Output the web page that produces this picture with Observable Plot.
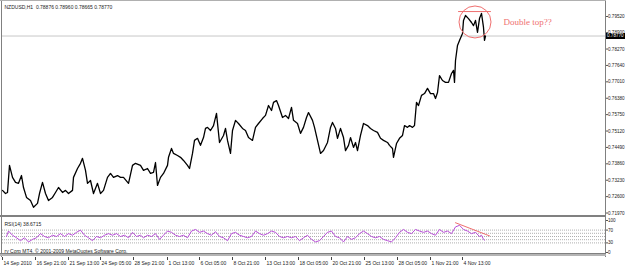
<!DOCTYPE html>
<html><head><meta charset="utf-8">
<script src="https://cdn.jsdelivr.net/npm/d3@7"></script>
<script src="https://cdn.jsdelivr.net/npm/@observablehq/plot@0.6"></script>
<style>
body{margin:0;background:#fff}
#wrap{position:relative;width:625px;height:269px;overflow:hidden;font-family:"Liberation Sans",Arial,sans-serif;background:#fff}
#wrap svg{position:absolute;left:0;overflow:visible}
.b{position:absolute;background:#808080}
.box{position:absolute;background:#000;color:#fff;font-size:4.6px;line-height:6px;height:6px;padding:0 0 0 1px;left:606px;width:18px;white-space:nowrap;overflow:hidden}
</style></head><body><div id="wrap"></div>
<script>
// ---- data ----
const symbolTitle = "NZDUSD,H1";
const ohlc = ["0.78876", "0.78960", "0.78665", "0.78770"];
const priceT = [0,3,5,7,10,13,16,19,21,24,28,31,35,37,40,43,46,50,53,56,60,63,66,70,71,75,78,80,83,85,88,91,95,98,101,105,108,111,115,118,121,126,130,133,138,141,145,148,151,153,155,158,161,165,166,169,171,175,178,181,185,187,190,192,195,198,201,203,205,208,211,214,217,221,223,225,228,230,233,236,240,243,246,250,253,256,260,263,266,269,271,274,276,280,283,286,289,291,295,298,301,304,306,310,312,315,318,321,325,328,330,333,335,338,341,343,346,348,351,353,355,358,361,365,368,371,375,378,381,385,387,390,391,394,397,400,402,405,407,410,412,414,416,419,422,425,428,431,433,435,437,440,443,446,449,451,452,453,455,457,460,461,463,466,469,471,473,475,477,479,481,482,483];
const priceV = [0.7284,0.7272,0.7276,0.7380,0.7334,0.7315,0.7311,0.7341,0.7295,0.7257,0.7245,0.7219,0.7234,0.7272,0.7315,0.7272,0.7245,0.7257,0.7276,0.7295,0.7276,0.7284,0.7272,0.7284,0.7334,0.7368,0.7388,0.7407,0.7361,0.7311,0.7322,0.7272,0.7311,0.7272,0.7284,0.7334,0.7349,0.7334,0.7341,0.7334,0.7334,0.7311,0.7380,0.7388,0.7380,0.7361,0.7368,0.7349,0.7353,0.7391,0.7303,0.7334,0.7349,0.7380,0.7411,0.7445,0.7426,0.7418,0.7411,0.7399,0.7380,0.7368,0.7426,0.7476,0.7484,0.7457,0.7487,0.7522,0.7526,0.7514,0.7533,0.7580,0.7468,0.7495,0.7522,0.7476,0.7426,0.7514,0.7553,0.7541,0.7522,0.7514,0.7487,0.7476,0.7526,0.7541,0.7560,0.7572,0.7610,0.7591,0.7622,0.7629,0.7610,0.7564,0.7572,0.7560,0.7603,0.7553,0.7541,0.7503,0.7526,0.7564,0.7583,0.7553,0.7526,0.7476,0.7426,0.7437,0.7468,0.7526,0.7545,0.7522,0.7484,0.7522,0.7487,0.7437,0.7457,0.7487,0.7449,0.7468,0.7437,0.7495,0.7541,0.7533,0.7522,0.7514,0.7507,0.7484,0.7476,0.7468,0.7457,0.7445,0.7411,0.7464,0.7484,0.7495,0.7533,0.7526,0.7533,0.7526,0.7533,0.7622,0.7610,0.7649,0.7656,0.7676,0.7656,0.7656,0.7637,0.7660,0.7725,0.7706,0.7699,0.7699,0.7733,0.7745,0.7699,0.7783,0.7841,0.7860,0.7887,0.7937,0.7956,0.7944,0.7929,0.7917,0.7937,0.7891,0.7944,0.7964,0.7910,0.7860,0.7877];
const rsiT = [4,6,10,14,18,22,26,30,34,38,42,46,50,54,58,62,66,70,74,78,82,86,90,94,98,102,106,110,114,118,122,126,130,134,138,141,145,149,153,157,161,165,169,173,177,181,185,189,193,197,201,205,209,213,217,221,225,229,233,237,241,245,249,253,257,261,265,269,273,277,281,285,289,293,297,301,305,309,313,317,321,325,329,333,337,341,345,349,353,357,361,365,369,373,377,381,385,389,393,397,401,405,409,413,417,421,425,429,433,437,441,445,449,453,457,461,465,469,473,477,479,481,482];
const rsiV = [50,67,54,46,37,46,33,41,46,59,50,46,54,50,59,50,59,54,63,70,54,46,37,50,46,54,59,54,59,50,54,46,63,50,54,46,54,50,59,41,54,67,63,54,50,54,46,67,72,63,67,59,54,65,50,46,37,59,63,54,50,46,50,67,59,54,59,67,63,50,46,50,46,50,37,46,54,41,33,37,50,63,67,50,46,33,50,41,46,59,67,59,50,46,50,41,37,33,46,63,72,63,59,72,67,63,67,59,54,72,63,67,59,80,85,72,67,59,63,50,54,41,38.67];
const priceTicks = [0.79520,0.78900,0.78270,0.77640,0.77010,0.76380,0.75750,0.75120,0.74490,0.73860,0.73230,0.72600,0.71970];
const timeTickT = [0,33,66,98,131,165,197,230,263,296,329,362,395,428,460];
const timeTickLabels = ["14 Sep 2010","16 Sep 21:00","21 Sep 13:00","24 Sep 05:00","28 Sep 21:00","1 Oct 13:00","6 Oct 05:00","8 Oct 21:00","13 Oct 13:00","18 Oct 05:00","20 Oct 21:00","25 Oct 13:00","28 Oct 05:00","1 Nov 21:00","4 Nov 13:00"];
const bid = 0.78770;
const rsiName = "RSI(14)";
const rsiNow = "38.6715";
const rsiLevels = [70,60,50,40,30];
const rsiTickVals = [100,70,30,0];
const noteText = "Double top??";
const noteT = [501]; const noteV = [0.7929];
const circleT = [472.5]; const circleV = [0.7931];
const topLineT = [456, 488]; const topLineV = 0.7971;
const trendT = [453, 487]; const trendV = [93, 52];
const copyright = "ry Corp MT4, \u00a9 2001-2009 MetaQuotes Software Corp.";

// ---- build ----
const price = priceT.map((t,i)=>({t, v: priceV[i]}));
const rsi = rsiT.map((t,i)=>({t, v: rsiV[i]}));
const pink = "#ef6f6f";
const font = "'Liberation Sans', Arial, sans-serif";
const wrap = document.getElementById("wrap");

const p1 = Plot.plot({
  width: 625, height: 216,
  marginLeft: 2, marginRight: 20, marginTop: 2, marginBottom: 1,
  x: {domain: [0, 603], axis: null},
  y: {domain: [0.71875, 0.80058], axis: null},
  style: {fontFamily: font, fontSize: "4.6px", background: "transparent", color: "#222"},
  marks: [
    Plot.ruleY([bid], {stroke: "#c8c8c8", strokeWidth: 1}),
    Plot.line(price, {x: "t", y: "v", stroke: "#000", strokeWidth: 1.3}),
    Plot.axisY(priceTicks, {anchor: "right", label: null, tickSize: 2, tickPadding: 0.5, tickFormat: d => d.toFixed(5), fontSize: 4.6, stroke: "#555"}),
    Plot.text([symbolTitle + "  " + ohlc.join(" ")], {frameAnchor: "top-left", dx: 2, dy: 3, fontSize: 5, fill: "#222", textAnchor: "start"}),
    Plot.line(topLineT.map(t => ({t, v: topLineV})), {x: "t", y: "v", stroke: pink, strokeWidth: 1}),
    Plot.dot(circleT.map((t,i)=>({t, v: circleV[i]})), {x: "t", y: "v", r: 16, stroke: pink, strokeWidth: 1, fill: "none"}),
    Plot.text(noteT.map((t,i)=>({t, v: noteV[i]})), {x: "t", y: "v", text: () => noteText, fill: pink, fontSize: 9, fontFamily: "'Liberation Serif', 'Times New Roman', serif", textAnchor: "start"})
  ]
});
p1.style.top = "0px";
wrap.appendChild(p1);

const p2 = Plot.plot({
  width: 625, height: 53,
  marginLeft: 2, marginRight: 20, marginTop: 4, marginBottom: 17,
  x: {domain: [0, 603], axis: null},
  y: {domain: [0, 100], axis: null},
  style: {fontFamily: font, fontSize: "4.6px", background: "transparent", color: "#222"},
  marks: [
    Plot.ruleY(rsiLevels, {stroke: "#9a9a9a", strokeDasharray: "1,1", strokeWidth: 0.8}),
    Plot.line(rsi, {x: "t", y: "v", stroke: "#b84fd8", strokeWidth: 1}),
    Plot.line(trendT.map((t,i)=>({t, v: trendV[i]})), {x: "t", y: "v", stroke: pink, strokeWidth: 1}),
    Plot.axisY(rsiTickVals, {anchor: "right", label: null, tickSize: 2, tickPadding: 0.5, fontSize: 4.6, stroke: "#555"}),
    Plot.text([rsiName + " " + rsiNow], {frameAnchor: "top-left", dx: 2, dy: 2, fontSize: 5, fill: "#222", textAnchor: "start"}),
    Plot.text([copyright], {frameAnchor: "bottom-left", dx: 2, dy: 0, fontSize: 5, fill: "#222", textAnchor: "start"}),
    Plot.ruleX(timeTickT, {x: d => d, insetTop: 37, insetBottom: -8, stroke: "#444"}),
    Plot.text(timeTickT, {x: d => d, text: (d,i) => timeTickLabels[i], frameAnchor: "bottom", dy: 12, dx: 1, textAnchor: "start", fontSize: 5, fill: "#222"})
  ]
});
p2.style.top = "216px";
wrap.appendChild(p2);

// bid price box positioned with the library's y scale
const yb = p1.scale("y").apply(bid);
const box = document.createElement("div");
box.className = "box"; box.textContent = ohlc[3];
box.style.top = (yb - 3) + "px";
wrap.appendChild(box);

// window borders
function bar(l,t,w,h,c){const d=document.createElement("div");d.className="b";Object.assign(d.style,{left:l+"px",top:t+"px",width:w+"px",height:h+"px"});if(c)d.style.background=c;wrap.appendChild(d);}
bar(1,0,1,257);
bar(605,0,1,257);
bar(0,0,606,1,"#b0b0b0");
bar(0,215,606,2);
bar(0,253,606,1);
bar(0,254,606,2,"#b4b4b4");
</script></body></html>
